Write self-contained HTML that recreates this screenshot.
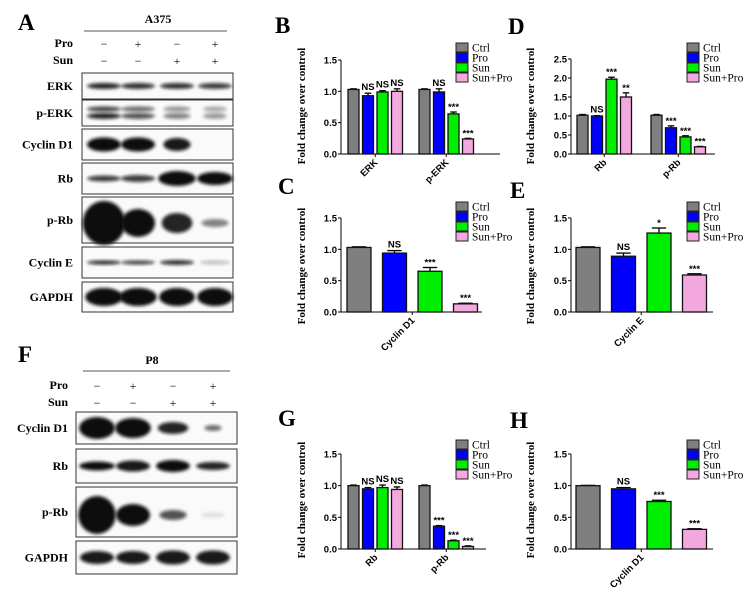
<!DOCTYPE html>
<html><head><meta charset="utf-8"><style>
body{margin:0;background:#fff;}
svg{display:block;}
.lt{font-family:"Liberation Serif",serif;font-weight:bold;}
.tk{font-family:"Liberation Sans",sans-serif;font-weight:bold;font-size:9.5px;}
.lg{font-family:"Liberation Serif",serif;font-size:11.5px;}
.bl{font-family:"Liberation Serif",serif;font-weight:bold;font-size:12px;}
</style></head><body>
<svg id="fig" width="745" height="601" viewBox="0 0 745 601" xmlns="http://www.w3.org/2000/svg">
<defs>
<filter id="blur" x="-30%" y="-60%" width="160%" height="220%"><feGaussianBlur stdDeviation="1.6"/></filter>
</defs>
<g id="letters">
<text class="lt" x="18" y="30" font-size="23">A</text>
<text class="lt" x="275" y="33" font-size="23">B</text>
<text class="lt" x="508" y="34" font-size="23">D</text>
<text class="lt" x="278" y="194" font-size="23">C</text>
<text class="lt" x="510" y="198" font-size="23">E</text>
<text class="lt" x="18" y="362" font-size="23">F</text>
<text class="lt" x="278" y="426" font-size="23">G</text>
<text class="lt" x="510" y="428" font-size="23">H</text>
</g>
<g id="blots"></g>
<g id="charts"></g>
</svg>
<script>
// ---- chart data ----
const seriesNames = ["Ctrl","Pro","Sun","Sun+Pro"];
const seriesColors = ["#7f7f7f","#0000ff","#00ee00","#f4a8e0"];
const ticks15 = [0,0.5,1.0,1.5];
const tickLabels15 = ["0.0","0.5","1.0","1.5"];
const ticks25 = [0,0.5,1.0,1.5,2.0,2.5];
const tickLabels25 = ["0.0","0.5","1.0","1.5","2.0","2.5"];

const bCategories = ["ERK","p-ERK"];
const bValues = [[1.03,0.93,0.99,1.00],[1.03,0.99,0.64,0.24]];
const bErrors = [[0.01,0.04,0.02,0.04],[0.01,0.05,0.03,0.01]];
const bSig = [["","NS","NS","NS"],["","NS","***","***"]];

const dCategories = ["Rb","p-Rb"];
const dValues = [[1.02,1.00,1.97,1.50],[1.02,0.69,0.45,0.19]];
const dErrors = [[0.02,0.01,0.05,0.11],[0.02,0.05,0.03,0.01]];
const dSig = [["","NS","***","**"],["","***","***","***"]];

const cCategories = ["Cyclin D1"];
const cValues = [[1.03,0.94,0.65,0.13]];
const cErrors = [[0.01,0.04,0.06,0.01]];
const cSig = [["","NS","***","***"]];

const eCategories = ["Cyclin E"];
const eValues = [[1.03,0.89,1.26,0.59]];
const eErrors = [[0.01,0.05,0.08,0.02]];
const eSig = [["","NS","*","***"]];

const gCategories = ["Rb","p-Rb"];
const gValues = [[1.00,0.95,0.97,0.94],[1.00,0.36,0.13,0.04]];
const gErrors = [[0.01,0.02,0.04,0.04],[0.01,0.01,0.01,0.01]];
const gSig = [["","NS","NS","NS"],["","***","***","***"]];

const hCategories = ["Cyclin D1"];
const hValues = [[1.00,0.95,0.75,0.31]];
const hErrors = [[0.005,0.02,0.02,0.01]];
const hSig = [["","NS","***","***"]];

const NS="http://www.w3.org/2000/svg";
function mk(tag,attrs,parent){const e=document.createElementNS(NS,tag);for(const k in attrs)e.setAttribute(k,attrs[k]);if(parent)parent.appendChild(e);return e;}

function drawChart(id,L,cats,vals,errs,sigs,ticks,tlabels){
  const g=mk('g',{},document.getElementById('charts'));
  
  
  const ymax=ticks[ticks.length-1];
  const y=v=>L.y0-(L.y0-L.ytop)*v/ymax;
  const ax=mk('line',{x1:L.ax,y1:L.ytop,x2:L.ax,y2:L.y0,stroke:'#000','stroke-width':1},g);
  
  
  ticks.forEach((t,i)=>{
    mk('line',{x1:L.ax-3,y1:y(t),x2:L.ax,y2:y(t),stroke:'#000'},g);
    const tx=mk('text',{x:L.ax-4,y:y(t)+3.5,'text-anchor':'end',class:'tk'},g);
    tx.textContent=tlabels[i];
    
    
  });
  const xa=mk('line',{x1:L.ax,y1:L.y0,x2:L.xend,y2:L.y0,stroke:'#000'},g);
  
  
  const yt=mk('text',{x:L.ytx,y:L.yty,'text-anchor':'middle',class:'lt','font-size':'11',transform:`rotate(-90 ${L.ytx} ${L.yty})`},g);
  yt.textContent='Fold change over control';
  
  
  cats.forEach((c,ci)=>{
    const start=L.starts[ci];
    vals[ci].forEach((v,si)=>{
      const x=start+si*L.step;
      const top=y(v), et=y(v+errs[ci][si]);
      const eb=mk('line',{x1:x+L.bw/2,y1:et,x2:x+L.bw/2,y2:top,stroke:'#000','stroke-width':1.3},g);
      
      
      mk('line',{x1:x+L.bw/2-L.bw*0.3,y1:et,x2:x+L.bw/2+L.bw*0.3,y2:et,stroke:'#000','stroke-width':1.3},g);
      const r=mk('rect',{x:x,y:top,width:L.bw,height:L.y0-top,fill:seriesColors[si],stroke:'#111','stroke-width':1.3},g);
      
      
      const s=sigs[ci][si];
      if(s){
        const st=mk('text',{x:x+L.bw/2,y:et-(s==='NS'?3:2),'text-anchor':'middle',class:'tk','font-size':s==='NS'?'10':'8.5'},g);
        st.textContent=s;
        
        
      }
    });
    const cx=start+(3*L.step+L.bw)/2;
    mk('line',{x1:cx,y1:L.y0,x2:cx,y2:L.y0+3,stroke:'#000'},g);
    const lx=cx+3, ly=L.y0+9;
    const xl=mk('text',{x:lx,y:ly,'text-anchor':'end',class:'tk','font-size':'10.5',transform:`rotate(-45 ${lx} ${ly})`},g);
    xl.textContent=c;
    
    
  });
  seriesNames.forEach((n,i)=>{
    const ly=L.lgy+i*10;
    const sq=mk('rect',{x:L.lgx,y:ly,width:12,height:9,fill:seriesColors[i],stroke:'#222','stroke-width':1},g);
    
    
    const t=mk('text',{x:L.lgx+16,y:ly+8.5,class:'lg'},g);
    t.textContent=n;
    
    
  });
}
drawChart('b',{ax:341,y0:154,ytop:60,xend:500,starts:[348,419],step:14.5,bw:11,lgx:456,lgy:43,ytx:305,yty:106},bCategories,bValues,bErrors,bSig,ticks15,tickLabels15);
drawChart('d',{ax:571,y0:154,ytop:59,xend:715,starts:[577,651],step:14.5,bw:11,lgx:687,lgy:43,ytx:534,yty:106},dCategories,dValues,dErrors,dSig,ticks25,tickLabels25);
drawChart('c',{ax:341,y0:312,ytop:218,xend:482,starts:[347],step:35.5,bw:24,lgx:456,lgy:202,ytx:305,yty:266},cCategories,cValues,cErrors,cSig,ticks15,tickLabels15);
drawChart('e',{ax:571,y0:312,ytop:218,xend:713,starts:[576],step:35.5,bw:24,lgx:687,lgy:202,ytx:534,yty:266},eCategories,eValues,eErrors,eSig,ticks15,tickLabels15);
drawChart('g',{ax:341,y0:549,ytop:454,xend:486,starts:[348,419],step:14.5,bw:11,lgx:456,lgy:440,ytx:305,yty:500},gCategories,gValues,gErrors,gSig,ticks15,tickLabels15);
drawChart('h',{ax:571,y0:549,ytop:454,xend:713,starts:[576],step:35.5,bw:24,lgx:687,lgy:440,ytx:534,yty:500},hCategories,hValues,hErrors,hSig,ticks15,tickLabels15);

// ---- blots ----
const aLanes=[104,138,177,215];
const fLanes=[97,133,173,213];
const aRows=[
 {name:"ERK",y0:73,y1:99,bands:[[0.9,1],[0.85,1],[0.85,1],[0.8,1]],h:[6,6,6,6]},
 {name:"p-ERK",y0:100,y1:126,bands:[[0.9,1],[0.7,1],[0.5,0.8],[0.4,0.7]],h:[11,10,9,8],dbl:true},
 {name:"Cyclin D1",y0:129,y1:160,bands:[[1,1],[1,1],[0.95,0.8],[0,0]],h:[14,14,13,0]},
 {name:"Rb",y0:163,y1:194,bands:[[0.8,1],[0.8,1],[1,1.1],[1,1.05]],h:[6,7,15,13]},
 {name:"p-Rb",y0:197,y1:243,bands:[[1,1.25],[1,1],[0.9,0.9],[0.5,0.8]],h:[44,28,20,8]},
 {name:"Cyclin E",y0:247,y1:278,bands:[[0.9,1],[0.8,1],[0.85,1],[0.25,0.9]],h:[4,4,5,4]},
 {name:"GAPDH",y0:282,y1:312,bands:[[1,1.1],[1,1.1],[1,1.05],[1,1.05]],h:[18,18,18,18]}
];
const fRows=[
 {name:"Cyclin D1",y0:412,y1:444,bands:[[1,1.05],[1,1.05],[0.9,0.9],[0.6,0.5]],h:[22,20,12,6]},
 {name:"Rb",y0:449,y1:483,bands:[[1,1.05],[0.95,1],[1,1],[0.9,1]],h:[9,11,12,8]},
 {name:"p-Rb",y0:487,y1:537,bands:[[1,1.1],[1,1],[0.7,0.8],[0.1,0.7]],h:[38,22,10,6]},
 {name:"GAPDH",y0:541,y1:574,bands:[[0.95,1],[0.95,1],[0.95,1],[0.95,1]],h:[13,13,14,14]}
];
function drawBlot(id,bx0,bx1,lanes,rows,labelX,title,titleX,titleY,lineY,lx0,lx1,proY,sunY){
  const g=mk('g',{},document.getElementById('blots'));
  
  
  const t=mk('text',{x:titleX,y:titleY,'text-anchor':'middle',class:'bl','font-size':'13'},g);
  t.textContent=title;
  
  
  mk('line',{x1:lx0,y1:lineY,x2:lx1,y2:lineY,stroke:'#555','stroke-width':1},g);
  const pro=["−","+","−","+"], sun=["−","−","+","+"];
  [["Pro",proY,pro],["Sun",sunY,sun]].forEach(([n,yy,arr])=>{
    const l=mk('text',{x:labelX,y:yy+4,'text-anchor':'end',class:'bl'},g);
    l.textContent=n;
    
    
    arr.forEach((s,i)=>{
      const st=mk('text',{x:lanes[i],y:yy+5,'text-anchor':'middle',class:'bl','font-size':'14',style:'font-weight:normal'},g);
      st.textContent=s;
      
      
    });
  });
  rows.forEach(r=>{
    const box=mk('rect',{x:bx0,y:r.y0,width:bx1-bx0,height:r.y1-r.y0,fill:'#fafafa',stroke:'#333','stroke-width':1},g);
    
    
    const cy=(r.y0+r.y1)/2;
    r.bands.forEach((b,i)=>{
      const [op,wf]=b; if(op<=0)return;
      const w=17*wf, h=r.h[i];
      if(r.dbl){
        mk('ellipse',{cx:lanes[i],cy:cy-4,rx:w,ry:2.6,fill:'#111',opacity:op*0.85,filter:'url(#blur)'},g);
        mk('ellipse',{cx:lanes[i],cy:cy+3,rx:w,ry:3,fill:'#111',opacity:op,filter:'url(#blur)'},g);
      }else{
        const e=mk('ellipse',{cx:lanes[i],cy:cy+(r.name==="p-Rb"?3:0),rx:w,ry:h/2,fill:'#0a0a0a',opacity:op,filter:'url(#blur)'},g);
        
        
      }
    });
    const lab=mk('text',{x:labelX,y:cy+4,'text-anchor':'end',class:'bl'},g);
    lab.textContent=r.name;
    
    
  });
}
drawBlot('a375',82,233,aLanes,aRows,73,'A375',158,23,31,84,227,43,60);
drawBlot('p8',76,237,fLanes,fRows,68,'P8',152,364,371,83,230,385,402);
</script>
</body></html>
